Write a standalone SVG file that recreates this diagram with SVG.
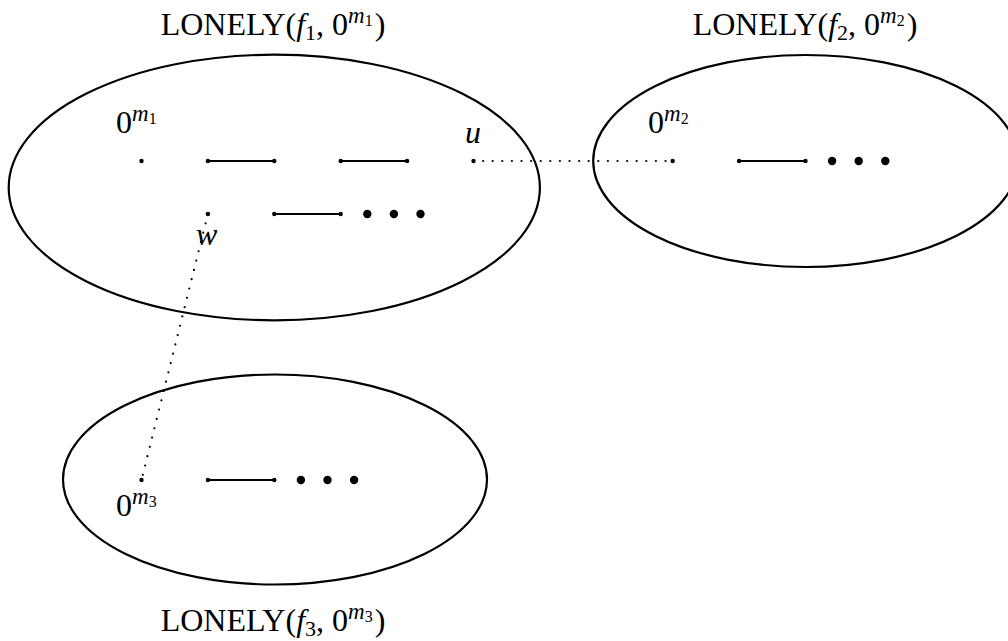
<svg xmlns="http://www.w3.org/2000/svg" width="1008" height="641" viewBox="0 0 1008 641">
<style>
.cl{fill:none;stroke:#000;stroke-width:2.2}
.ed{stroke:#000;stroke-width:2}
.dot{stroke:#000;stroke-width:2.2;stroke-linecap:round;stroke-dasharray:0 9.6;fill:none}
.v{fill:#000}
.t{font-family:"Liberation Serif","Times New Roman",serif;font-size:32px;fill:#000}
.i{font-style:italic}
.sp{font-size:23px;font-style:italic}
.ss{font-size:16px}
.sb{font-size:22px}
</style>
<rect width="1008" height="641" fill="#fff"/>
<g id="cluster1">
<ellipse class="cl" cx="274.3" cy="187.5" rx="265.6" ry="132.8"/>
<text class="t" x="273" y="35" text-anchor="middle">LONELY(<tspan class="i">f</tspan><tspan class="sb" dy="5">1</tspan><tspan dy="-5">, 0</tspan><tspan class="sp" dy="-12">m</tspan><tspan class="ss" dy="3">1</tspan><tspan dy="9" dx="2">)</tspan></text>
<text class="t" x="116" y="133">0<tspan class="sp" dy="-12">m</tspan><tspan class="ss" dy="3">1</tspan></text>
<text class="t i" x="465" y="143">u</text>
<text class="t i" x="196" y="245">w</text>
<line class="ed" x1="207.9" y1="161" x2="274.3" y2="161"/>
<line class="ed" x1="340.7" y1="161" x2="407.1" y2="161"/>
<line class="ed" x1="274.3" y1="214" x2="340.7" y2="214"/>
<circle class="v" cx="141.5" cy="161" r="2.2"/>
<circle class="v" cx="207.9" cy="161" r="2.2"/>
<circle class="v" cx="274.3" cy="161" r="2.2"/>
<circle class="v" cx="340.7" cy="161" r="2.2"/>
<circle class="v" cx="407.1" cy="161" r="2.2"/>
<circle class="v" cx="473.5" cy="161" r="2.2"/>
<circle class="v" cx="207.9" cy="214" r="2.2"/>
<circle class="v" cx="274.3" cy="214" r="2.2"/>
<circle class="v" cx="340.7" cy="214" r="2.2"/>
<circle class="v" cx="367.3" cy="214" r="4.2"/>
<circle class="v" cx="393.9" cy="214" r="4.2"/>
<circle class="v" cx="420.5" cy="214" r="4.2"/>
</g>
<g id="cluster2">
<ellipse class="cl" cx="805.7" cy="161" rx="212.5" ry="106"/>
<text class="t" x="805" y="35" text-anchor="middle">LONELY(<tspan class="i">f</tspan><tspan class="sb" dy="5">2</tspan><tspan dy="-5">, 0</tspan><tspan class="sp" dy="-12">m</tspan><tspan class="ss" dy="3">2</tspan><tspan dy="9" dx="2">)</tspan></text>
<text class="t" x="648" y="133">0<tspan class="sp" dy="-12">m</tspan><tspan class="ss" dy="3">2</tspan></text>
<line class="ed" x1="739.1" y1="161" x2="805.5" y2="161"/>
<circle class="v" cx="672.7" cy="161" r="2.2"/>
<circle class="v" cx="739.1" cy="161" r="2.2"/>
<circle class="v" cx="805.5" cy="161" r="2.2"/>
<circle class="v" cx="832.1" cy="161" r="4.2"/>
<circle class="v" cx="858.7" cy="161" r="4.2"/>
<circle class="v" cx="885.3" cy="161" r="4.2"/>
</g>
<g id="cluster3">
<ellipse class="cl" cx="275" cy="479.5" rx="212" ry="105"/>
<text class="t" x="273" y="631" text-anchor="middle">LONELY(<tspan class="i">f</tspan><tspan class="sb" dy="5">3</tspan><tspan dy="-5">, 0</tspan><tspan class="sp" dy="-12">m</tspan><tspan class="ss" dy="3">3</tspan><tspan dy="9" dx="2">)</tspan></text>
<text class="t" x="116" y="516">0<tspan class="sp" dy="-12">m</tspan><tspan class="ss" dy="3">3</tspan></text>
<line class="ed" x1="207.9" y1="480" x2="274.3" y2="480"/>
<circle class="v" cx="141.5" cy="480" r="2.2"/>
<circle class="v" cx="207.9" cy="480" r="2.2"/>
<circle class="v" cx="274.3" cy="480" r="2.2"/>
<circle class="v" cx="300.9" cy="480" r="4.2"/>
<circle class="v" cx="327.5" cy="480" r="4.2"/>
<circle class="v" cx="354.1" cy="480" r="4.2"/>
</g>
<g id="connectors">
<line class="dot" x1="473.5" y1="161" x2="672.7" y2="161"/>
<line class="dot" x1="207.9" y1="214" x2="141.5" y2="480"/>
</g>
</svg>
